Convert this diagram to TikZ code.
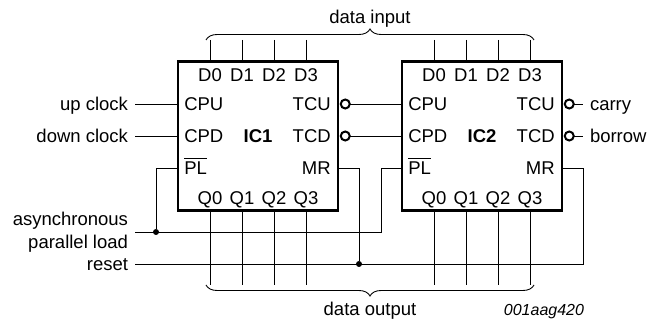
\documentclass[tikz,border=0pt]{standalone}
\usepackage{fontspec}
\setmainfont{Liberation Sans}
\usetikzlibrary{positioning, decorations.pathreplacing}
\newcommand{\barlabel}[1]{\vbox{\hrule height 1pt\kern 2.7pt\hbox{#1}}}

\tikzset{
  chip/.style={draw, line width=2.4pt, minimum width=159.5pt, minimum height=149pt, inner sep=0pt, outer sep=0pt},
  lbl/.style={font=\fontsize{18.5pt}{22pt}\selectfont, text height=13.3pt, text depth=0pt, inner sep=0pt, outer sep=0pt},
  chipname/.style={lbl, font=\fontsize{18.5pt}{22pt}\selectfont\bfseries},
  bubble/.style={circle, draw, line width=2pt, fill=white, minimum size=9pt, inner sep=0pt, outer sep=0pt},
  joint/.style={circle, fill=black, minimum size=6pt, inner sep=0pt, outer sep=0pt},
  wire/.style={line width=.9pt},
  bracket/.style={line width=.9pt, decorate, decoration={brace, amplitude=11pt}}
}

\begin{document}
\begin{tikzpicture}[x=1pt, y=-1pt, node distance=224pt, on grid]
  \useasboundingbox (0,0) rectangle (649,323);
  % Chips
  \node[chip] (ic1) at (258,136) {};
  \node[chip] (ic2) [right=of ic1] {};
  \node[chipname] (name1) at (ic1.center) {IC1};
  \node[chipname] (name2) at (ic2.center) {IC2};
  % Pins
  \foreach \c in {1,2} {
    \foreach \n/\s in {0/-48, 1/-16, 2/16, 3/48} {
      \node[lbl] (d\n\c) at ([xshift=\s pt, yshift=61pt]ic\c.center) {D\n};
      \node[lbl] (q\n\c) at ([xshift=\s pt, yshift=-61.5pt]ic\c.center) {Q\n};
      \coordinate (dend\n\c) at ([xshift=\s pt, yshift=96pt]ic\c.center);
      \coordinate (qend\n\c) at ([xshift=\s pt, yshift=-149pt]ic\c.center);
      \draw[wire] (dend\n\c) -- (dend\n\c |- ic\c.north);
      \draw[wire] (qend\n\c) -- (qend\n\c |- ic\c.south);
    }
    \node[lbl, anchor=west] (cpu\c) at ([xshift=6pt, yshift=32pt]ic\c.west) {CPU};
    \node[lbl, anchor=west] (cpd\c) at ([xshift=6pt]ic\c.west) {CPD};
    \node[lbl, anchor=west] (pl\c) at ([xshift=6pt, yshift=-32pt]ic\c.west) {\barlabel{PL}};
    \node[lbl, anchor=east] (tcu\c) at ([xshift=-7pt, yshift=32pt]ic\c.east) {TCU};
    \node[lbl, anchor=east] (tcd\c) at ([xshift=-7pt]ic\c.east) {TCD};
    \node[lbl, anchor=east] (mr\c) at ([xshift=-7pt, yshift=-32pt]ic\c.east) {MR};
    \node[bubble] (bu\c) at ([xshift=7.5pt, yshift=32pt]ic\c.east) {};
    \node[bubble] (bd\c) at ([xshift=7.5pt]ic\c.east) {};
  }
  % Outer labels
  \node[lbl, anchor=east] (upclock) at (128,104) {up clock};
  \node[lbl, anchor=east] (downclock) at (128,136) {down clock};
  \node[lbl, anchor=east] (async) at (128,219) {asynchronous};
  \node[lbl, anchor=east] (parload) at (128,241.5) {parallel load};
  \node[lbl, anchor=east] (reset) at (128,264) {reset};
  \node[lbl, anchor=west] (carry) at (590,104) {carry};
  \node[lbl, anchor=west] (borrow) at (590,136) {borrow};
  \node[lbl] (datain) at (370,16.5) {data input};
  \node[lbl] (dataout) at (370,308.5) {data output};
  \node[lbl, anchor=east, font=\fontsize{16pt}{20pt}\selectfont\itshape] (code) at (584,309) {001aag420};
  % Wires
  \coordinate (loadin) at (135,232);
  \coordinate (loadbend) at (381,232);
  \coordinate (resetend) at (583,264);
  \draw[wire, shorten <=7pt] (upclock) -- (ic1.west |- upclock);
  \draw[wire, shorten <=7pt] (downclock) -- (ic1.west |- downclock);
  \draw[wire] (bu1) -- (ic2.west |- bu1);
  \draw[wire] (bd1) -- (ic2.west |- bd1);
  \draw[wire, shorten >=7pt] (bu2) -- (carry);
  \draw[wire, shorten >=7pt] (bd2) -- (borrow);
  \draw[wire] (loadin) -- (loadbend) |- (ic2.west |- pl2);
  \draw[wire, shorten <=7pt] (reset) -- (resetend) |- (ic2.east |- mr2);
  \node[joint] (loadjoint) at (156,232) {};
  \node[joint] (resetjoint) at (359,264) {};
  \draw[wire] (ic1.west |- pl1) -| (loadjoint);
  \draw[wire] (ic1.east |- mr1) -| (resetjoint);
  % Braces
  \draw[bracket] ([xshift=-4pt]dend01) -- ([xshift=4pt]dend32);
  \draw[bracket] ([xshift=4pt]qend32) -- ([xshift=-4pt]qend01);
\end{tikzpicture}
\end{document}
